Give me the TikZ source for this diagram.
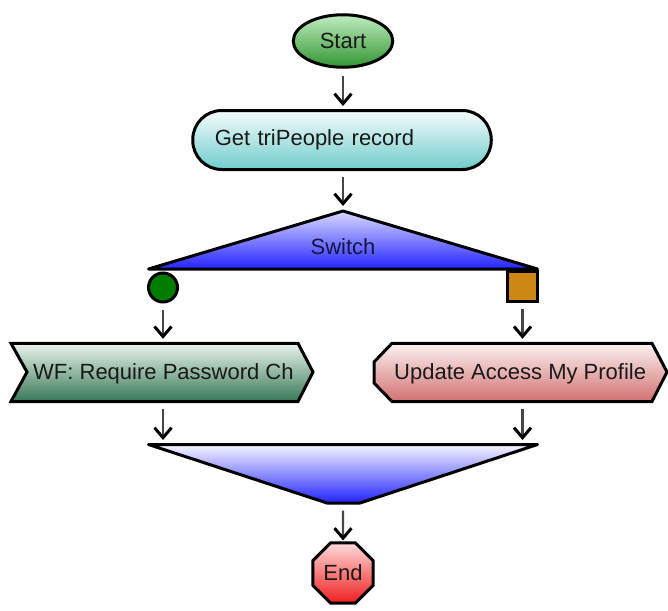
\documentclass[tikz,border=0pt]{standalone}
\usepackage{fontspec}
\setmainfont{Liberation Sans}
\usetikzlibrary{arrows.meta,shapes.geometric}
\definecolor{startTop}{RGB}{192,236,192}
\definecolor{startBot}{RGB}{50,150,50}
\definecolor{getTop}{RGB}{246,252,252}
\definecolor{getBot}{RGB}{112,204,204}
\definecolor{swTop}{RGB}{218,218,255}
\definecolor{swBot}{RGB}{35,35,255}
\definecolor{swText}{RGB}{20,20,70}
\definecolor{caseAcol}{RGB}{0,125,0}
\definecolor{caseBcol}{RGB}{205,135,20}
\definecolor{wfTop}{RGB}{234,244,238}
\definecolor{wfBot}{RGB}{55,120,85}
\definecolor{upTop}{RGB}{252,242,242}
\definecolor{upBot}{RGB}{210,112,112}
\definecolor{joinTop}{RGB}{246,246,255}
\definecolor{joinBot}{RGB}{35,35,255}
\definecolor{endTop}{RGB}{255,218,218}
\definecolor{endBot}{RGB}{238,30,30}
\definecolor{txt}{RGB}{25,25,25}
\definecolor{shaft}{RGB}{70,70,70}
\begin{document}
\begin{tikzpicture}[x=1pt,y=-1pt,
  outl/.style={draw=black, line width=3pt},
  lbl/.style={font=\fontsize{22}{26}\selectfont, text=txt, inner sep=0pt},
  flow/.style={draw=shaft, line width=2.4pt, shorten <=6pt, shorten >=3pt,
    -{Straight Barb[length=10pt,width=17pt,line width=3pt,color=black]}},
]
\useasboundingbox (0,0) rectangle (668,610);

% Start
\node[ellipse, outl, minimum width=99.5pt, minimum height=52.5pt, inner sep=0pt,
      top color=startTop, bottom color=startBot, lbl] (start) at (343,41) {Start};

% Get triPeople record
\node[outl, rounded corners=29pt, minimum height=59pt, lbl, text width=254.5pt,
      inner xsep=22pt, inner ysep=0pt, align=left,
      top color=getTop, bottom color=getBot] (get) at (342,140) {Get triPeople record};

% Switch triangle
\draw[outl, line join=round, top color=swTop, bottom color=swBot]
  (343,211) coordinate (swN) -- (537.5,269) -- (148.5,269) -- cycle;
\node[lbl, text=swText] (switch) at (343,247) {Switch};

% Case markers
\node[circle, outl, fill=caseAcol, minimum size=29pt, inner sep=0pt] (caseA) at (163,287.5) {};
\node[rectangle, outl, fill=caseBcol, minimum size=30pt, inner sep=0pt] (caseB) at (522.5,286.5) {};

% WF chevron
\draw[outl, top color=wfTop, bottom color=wfBot]
  (11,343.3) -- (298,343.3) -- (313,372) -- (298,401.5) -- (11,401.5) -- (27,372) -- cycle;
\coordinate (wfN) at (163,341.8);
\coordinate (wfS) at (163,403);
\node[lbl, anchor=base west] (wf) at (33,379) {WF: Require Password Ch};

% Update hexagon
\draw[outl, top color=upTop, bottom color=upBot]
  (392,343.3) -- (652,343.3) -- (667,372) -- (652,401.5) -- (392,401.5) -- (374,383) -- (374,362) -- cycle;
\coordinate (upN) at (522.5,341.8);
\coordinate (upS) at (522.5,403);
\node[lbl, anchor=base west] (up) at (394,379) {Update Access My Profile};

% Join triangle
\draw[outl, line join=round, top color=joinTop, bottom color=joinBot]
  (148.5,444.5) -- (537.5,444.5) -- (360,503) -- (327,503) -- cycle;
\coordinate (jL) at (163,443);
\coordinate (jR) at (522.5,443);
\coordinate (jS) at (343,504.5);

% End
\node[regular polygon, regular polygon sides=8, outl, minimum size=65pt, inner sep=0pt,
      top color=endTop, bottom color=endBot, lbl] (end) at (343,573) {End};

% Connectors
\draw[flow, shorten <=7pt] (start.south) -- (start.south |- get.north);
\draw[flow, shorten >=5pt] (get.south -| swN) -- (swN);
\draw[flow] (caseA.south) -- (wfN);
\draw[flow] (caseB.south) -- (upN);
\draw[flow] (wfS) -- (jL);
\draw[flow] (upS) -- (jR);
\draw[flow, shorten >=1pt] (jS) -- (end.north);
\end{tikzpicture}
\end{document}
